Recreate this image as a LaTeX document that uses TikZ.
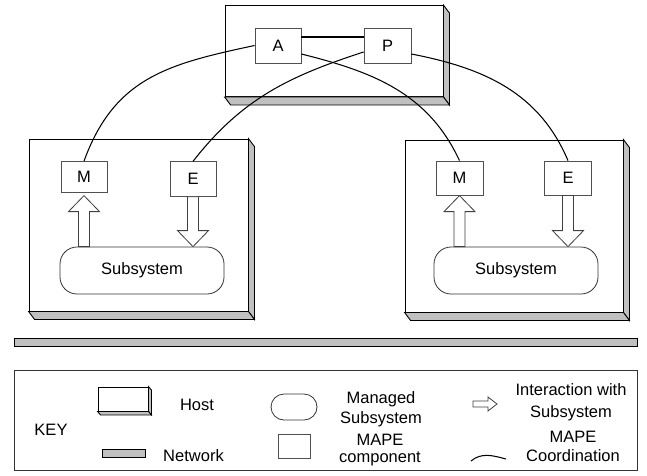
\documentclass[tikz,border=0pt]{standalone}
\usepackage{fontspec}
\setmainfont{Liberation Sans}
\usetikzlibrary{calc}
\definecolor{netgray}{RGB}{192,192,192}
\definecolor{boxgray}{RGB}{80,80,80}
\newcommand{\lblfont}{\fontsize{16.5}{19.5}\selectfont}
\begin{document}
\begin{tikzpicture}[x=1pt,y=-1pt,
  hostface/.style={draw=black, line width=0.9pt, fill=white, inner sep=0pt},
  hostside/.style={draw=black, line width=0.9pt, fill=netgray, line join=miter},
  mape/.style={draw=boxgray, line width=0.8pt, fill=white, inner sep=0pt, font=\lblfont},
  subsys/.style={draw=black!80, line width=0.8pt, fill=white, rounded corners=17pt, inner sep=0pt, minimum width=164pt, minimum height=47pt, font=\lblfont},
  blockarr/.style={draw=black!75, line width=0.8pt, fill=white, line join=miter},
  coordline/.style={draw=black, line width=1.05pt},
  lbl/.style={inner sep=0pt, font=\lblfont}
]
\useasboundingbox (0,0) rectangle (647,475);

% hosts
\node[hostface, minimum width=218pt, minimum height=91pt] (H0) at (334,51) {};
\node[hostface, minimum width=219pt, minimum height=172pt] (H1) at (138.5,225) {};
\node[hostface, minimum width=218pt, minimum height=172pt] (H2) at (514,226) {};
\foreach \h in {H0,H1,H2}{
  \draw[hostside] (\h.north east) -- ++(6,8) -- ($(\h.south east)+(6,8)$) -- (\h.south east) -- cycle;
  \draw[hostside] (\h.south west) -- ($(\h.south west)+(6,8)$) -- ($(\h.south east)+(6,8)$) -- (\h.south east) -- cycle;
}

% MAPE components
\node[mape, minimum width=46pt, minimum height=35pt] (A) at (278,45.5) {A};
\node[mape, minimum width=47pt, minimum height=35pt] (P) at (387.5,45.5) {P};
\node[mape, minimum width=46pt, minimum height=31pt] (M1) at (84,177) {M};
\node[mape, minimum width=46pt, minimum height=34.5pt] (E1) at (193,179) {E};
\node[mape, minimum width=47pt, minimum height=34pt] (M2) at (459.5,178) {M};
\node[mape, minimum width=47pt, minimum height=34pt] (E2) at (568,178) {E};

% subsystems
\node[subsys] (S1) at (142,270.5) {Subsystem};
\node[subsys] (S2) at (516,270.5) {Subsystem};

% block arrows
\foreach \m/\s in {M1/S1, M2/S2}{
  \draw[blockarr] ($(\m.south |- \s.north)+(0,-51)$) -- ++(15.5,16) -- ++(-10,0)
    -- ($(\m.south |- \s.north)+(5.5,0)$) -- ++(-11,0)
    -- ($(\m.south |- \s.north)+(-5.5,-35)$) -- ++(-10,0) -- cycle;
}
\foreach \e/\s in {E1/S1, E2/S2}{
  \draw[blockarr] (\e.south |- \s.north) -- ++(15.5,-16) -- ++(-10,0)
    -- ($(\e.south)+(5.5,0)$) -- ++(-11,0)
    -- ($(\e.south |- \s.north)+(-5.5,-16)$) -- ++(-10,0) -- cycle;
}

% coordination arcs
\draw[coordline] (A.west) to[out=192,in=70,looseness=1.1] (M1.north);
\draw[coordline] ($(P.west)+(0,6.5)$) to[out=198,in=52] (E1.north);
\draw[coordline] ($(A.east)+(0,8.5)$) to[out=-14,in=115] (M2.north);
\draw[coordline] ($(P.east)+(0,8.5)$) to[out=-11,in=113] (E2.north);
\draw[coordline] ($(A.east)+(0,-8.5)$) -- ($(P.west)+(0,-8.5)$);

% network
\node[draw=black, line width=0.9pt, fill=netgray, minimum width=623pt, minimum height=8pt, inner sep=0pt] (net) at (325.5,342.5) {};

% key
\node[draw=black!80, line width=0.9pt, minimum width=623pt, minimum height=100pt, inner sep=0pt] (key) at (325.5,420) {};
\node[lbl] (keyt) at (51,430) {KEY};
\node[hostface, minimum width=50pt, minimum height=24pt] (kh) at (123,399) {};
\draw[hostside] (kh.north east) -- ++(3,3.5) -- ($(kh.south east)+(3,3.5)$) -- (kh.south east) -- cycle;
\draw[hostside] (kh.south west) -- ($(kh.south west)+(3,3.5)$) -- ($(kh.south east)+(3,3.5)$) -- (kh.south east) -- cycle;
\node[lbl] (khl) at (197,405) {Host};
\node[draw=black, line width=0.8pt, fill=netgray, minimum width=43pt, minimum height=8pt, inner sep=0pt] (kn) at (123.5,453) {};
\node[lbl] (knl) at (193.5,456) {Network};
\node[draw=black!80, line width=0.8pt, fill=white, rounded corners=13pt, minimum width=46pt, minimum height=26pt, inner sep=0pt] (ks) at (294,407) {};
\node[lbl, align=center] (ksl) at (381,409) {Managed\\Subsystem};
\node[mape, minimum width=32pt, minimum height=24pt] (km) at (294,446) {};
\node[lbl, align=center] (kml) at (380,450) {MAPE\\[-2.5pt]component};
\coordinate (kat) at (497,404);
\draw[blockarr] (kat) -- ++(-9,-7) -- ++(0,4) -- ++(-15,0) -- ++(0,6) -- ++(15,0) -- ++(0,4) -- cycle;
\node[lbl, align=center] (kal) at (571,402.5) {Interaction with\\[2.5pt]Subsystem};
\coordinate (kc1) at (471,461);
\coordinate (kc2) at (506,459);
\draw[coordline] (kc1) to[out=40,in=165] (kc2);
\node[lbl, align=center] (kcl) at (573,446.5) {MAPE\\Coordination};
\end{tikzpicture}
\end{document}
